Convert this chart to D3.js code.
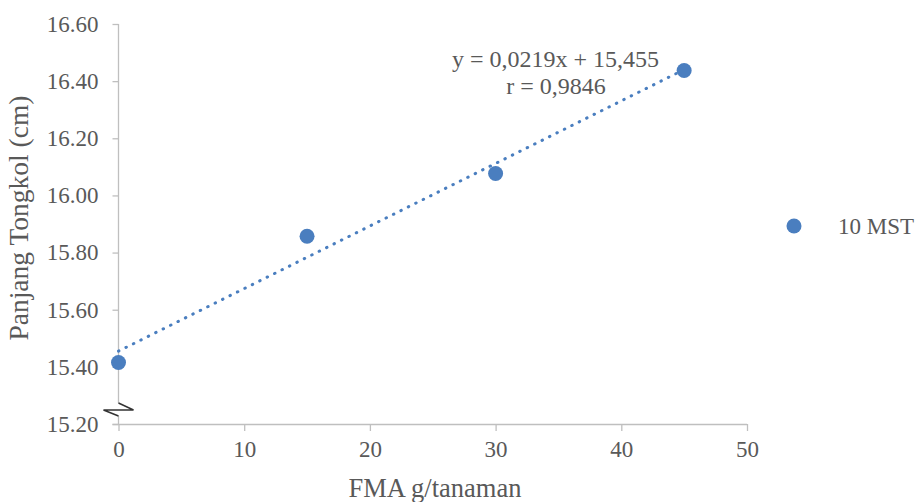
<!DOCTYPE html>
<html>
<head>
<meta charset="utf-8">
<script src="https://cdn.jsdelivr.net/npm/d3@7"></script>
<style>
  html, body { margin: 0; padding: 0; background: #fff; }
  svg { display: block; }
  text { font-family: "Liberation Serif", "Times New Roman", serif; fill: #595959; }
</style>
</head>
<body>
<svg id="chart" width="915" height="502"></svg>
<script>
// ---- data ----
const xValues = [0, 15, 30, 45];
const yValues = [15.415, 15.857, 16.077, 16.437];
const seriesName = "10 MST";
const xTicks = [0, 10, 20, 30, 40, 50];
const yTicks = [15.20, 15.40, 15.60, 15.80, 16.00, 16.20, 16.40, 16.60];
const trendSlope = 0.0219;
const trendIntercept = 15.455;
const trendRange = [0, 45];
const trendLabels = ["y = 0,0219x + 15,455", "r = 0,9846"];
const xTitle = "FMA g/tanaman";
const yTitle = "Panjang Tongkol (cm)";

// ---- layout ----
const svg = d3.select("#chart");
const pLeft = 118.5, pRight = 747, pTop = 24, pBottom = 424;
const blue = "#4A7EBF";
const axisColor = "#BFBFBF";

const x = d3.scaleLinear().domain([0, 50]).range([pLeft, pRight]);
const y = d3.scaleLinear().domain([15.2, 16.6]).range([pBottom, pTop]);

// y axis
const yAxis = svg.append("g").attr("transform", `translate(${pLeft},0)`)
  .call(d3.axisLeft(y).tickValues(yTicks).tickFormat(d3.format(".2f")).tickSize(6).tickPadding(14));
yAxis.select(".domain").remove();
yAxis.selectAll(".tick line").attr("stroke", axisColor).attr("stroke-width", 1.3);
yAxis.selectAll(".tick text").attr("font-size", 23).attr("fill", "#595959")
  .attr("font-family", "Liberation Serif");

// y axis line with a break
const brk = { top: 403, mid: 410, bot: 416 };
svg.append("line").attr("x1", pLeft).attr("x2", pLeft).attr("y1", pTop).attr("y2", brk.top)
  .attr("stroke", axisColor).attr("stroke-width", 1.3);
svg.append("line").attr("x1", pLeft).attr("x2", pLeft).attr("y1", brk.bot).attr("y2", pBottom)
  .attr("stroke", axisColor).attr("stroke-width", 1.3);
svg.append("path")
  .attr("d", `M${pLeft},${brk.top} L${pLeft + 15},${brk.mid} L${pLeft - 15},${brk.mid} L${pLeft},${brk.bot}`)
  .attr("fill", "none").attr("stroke", "#333").attr("stroke-width", 1.5);

// x axis
const xAxis = svg.append("g").attr("transform", `translate(0,${pBottom})`)
  .call(d3.axisBottom(x).tickValues(xTicks).tickFormat(d3.format("d")).tickSize(7).tickPadding(10));
xAxis.select(".domain").attr("stroke", axisColor).attr("stroke-width", 1.3)
  .attr("d", `M${pLeft - 6},0.5H${pRight}`);
xAxis.selectAll(".tick line").attr("stroke", axisColor).attr("stroke-width", 1.3);
xAxis.selectAll(".tick text").attr("font-size", 23).attr("fill", "#595959")
  .attr("font-family", "Liberation Serif");

// trendline
const trendPts = trendRange.map(v => [x(v), y(trendSlope * v + trendIntercept)]);
svg.append("path")
  .attr("d", d3.line()(trendPts))
  .attr("fill", "none").attr("stroke", blue).attr("stroke-width", 3)
  .attr("stroke-linecap", "round").attr("stroke-dasharray", "0.5 7.8");

// points
svg.append("g").selectAll("circle").data(xValues).join("circle")
  .attr("cx", (d) => x(d)).attr("cy", (d, i) => y(yValues[i])).attr("r", 7.5)
  .attr("fill", blue);

// trendline label
svg.append("text").attr("x", 555.5).attr("y", 66.5).attr("text-anchor", "middle")
  .attr("font-size", 24).text(trendLabels[0]);
svg.append("text").attr("x", 556).attr("y", 94).attr("text-anchor", "middle")
  .attr("font-size", 24).text(trendLabels[1]);

// legend
svg.append("circle").attr("cx", 794).attr("cy", 226).attr("r", 7.5).attr("fill", blue);
svg.append("text").attr("x", 838).attr("y", 233.5).attr("font-size", 23).text(seriesName);

// axis titles
svg.append("text").attr("x", 435).attr("y", 497).attr("text-anchor", "middle")
  .attr("font-size", 26.5).text(xTitle);
svg.append("text").attr("transform", "translate(28,218) rotate(-90)").attr("text-anchor", "middle")
  .attr("font-size", 27.5).text(yTitle);
</script>
</body>
</html>
